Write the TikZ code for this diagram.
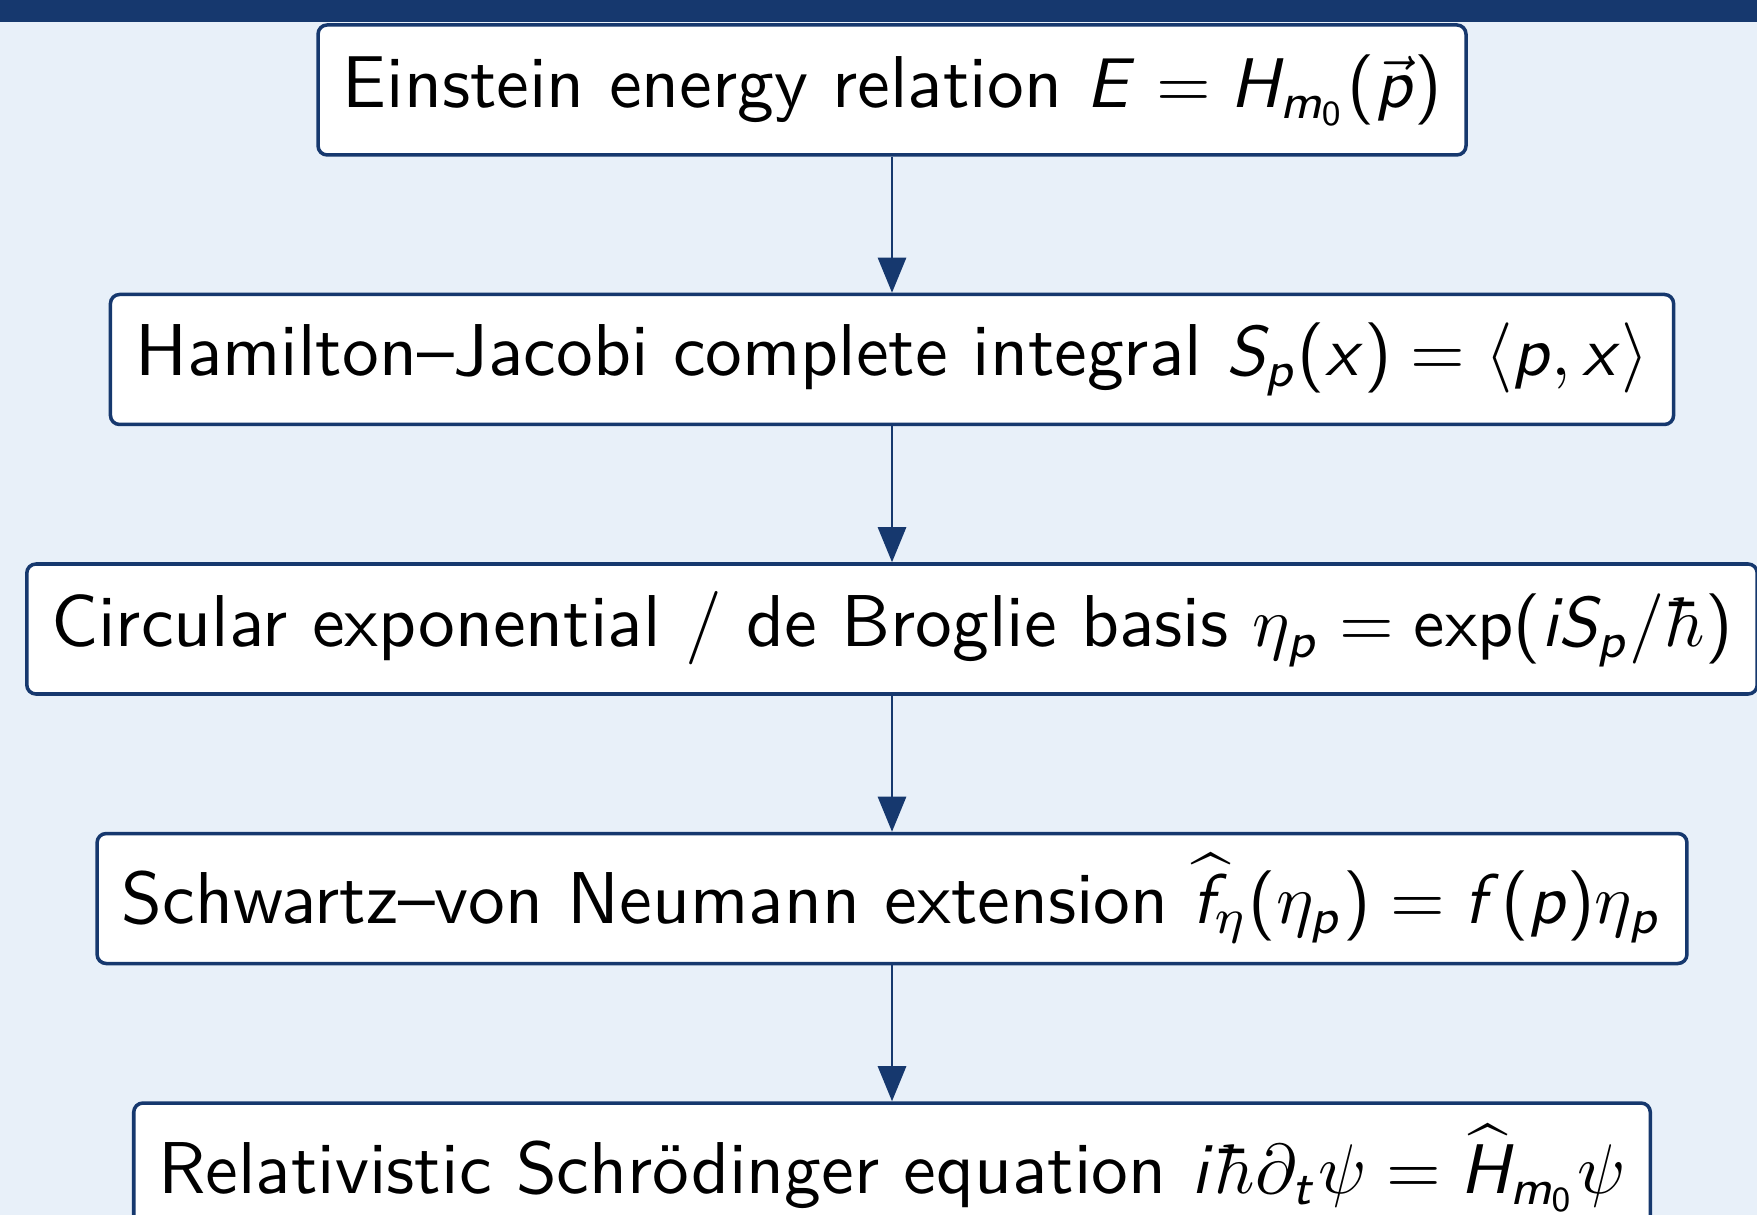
\documentclass[tikz,border=0pt]{standalone}
\usepackage{amsmath}
\usepackage{xcolor}
\usetikzlibrary{arrows.meta,positioning}
\renewcommand{\familydefault}{\sfdefault}

% sans-serif math letters and operators, Greek stays Computer Modern
\DeclareSymbolFont{sfletters}{OT1}{cmss}{m}{sl}
\SetSymbolFont{operators}{normal}{OT1}{cmss}{m}{n}
\makeatletter
\@tempcnta=65
\loop
  \mathcode\@tempcnta=\numexpr"7000+\symsfletters*"100+\@tempcnta\relax
  \advance\@tempcnta by 1
\ifnum\@tempcnta<91 \repeat
\@tempcnta=97
\loop
  \mathcode\@tempcnta=\numexpr"7000+\symsfletters*"100+\@tempcnta\relax
  \advance\@tempcnta by 1
\ifnum\@tempcnta<123 \repeat
\makeatother
\renewcommand{\hbar}{{\mathchar'26\mkern-9mu\mathchar"7168}}

\definecolor{barblue}{RGB}{22,56,110}
\definecolor{slidebg}{RGB}{232,240,249}

\begin{document}
\begin{tikzpicture}[
    stage/.style={draw=barblue, line width=0.5pt, fill=white, rounded corners=1.3pt,
      minimum height=0.65cm, inner xsep=3.5pt, inner ysep=2pt,
      font=\fontsize{10.45}{12.4}\selectfont},
    flow/.style={barblue, line width=0.4pt, -{Triangle[length=5pt,width=4pt]}},
    node distance=0.68cm
  ]

  %--- Slide background and title bar ---
  \useasboundingbox (0,0) rectangle (8.785,-6.075);
  \clip (0,0) rectangle (8.785,-6.075);
  \fill[slidebg] (0,0) rectangle (8.785,-6.075);
  \fill[barblue] (0,0) rectangle (8.785,-0.11);

  %--- Chain of steps ---
  \node[stage] (einstein) at (4.46,-0.45) {Einstein energy relation $E = H_{m_0}(\vec{p})$};
  \node[stage, below=of einstein] (hamjac) {Hamilton--Jacobi complete integral $S_p(x) = \langle p, x\rangle$};
  \node[stage, below=of hamjac] (broglie) {Circular exponential / de Broglie basis $\eta_p = \exp(iS_p/\hbar)$};
  \node[stage, below=of broglie] (neumann) {Schwartz--von Neumann extension $\widehat{f}_\eta(\eta_p) = f(p)\eta_p$};
  \node[stage, below=of neumann] (schroed) {Relativistic Schrödinger equation $i\hbar\partial_t\psi = \widehat{H}_{m_0}\psi$};

  %--- Arrows ---
  \draw[flow] (einstein) -- (hamjac);
  \draw[flow] (hamjac) -- (broglie);
  \draw[flow] (broglie) -- (neumann);
  \draw[flow] (neumann) -- (schroed);

\end{tikzpicture}
\end{document}
